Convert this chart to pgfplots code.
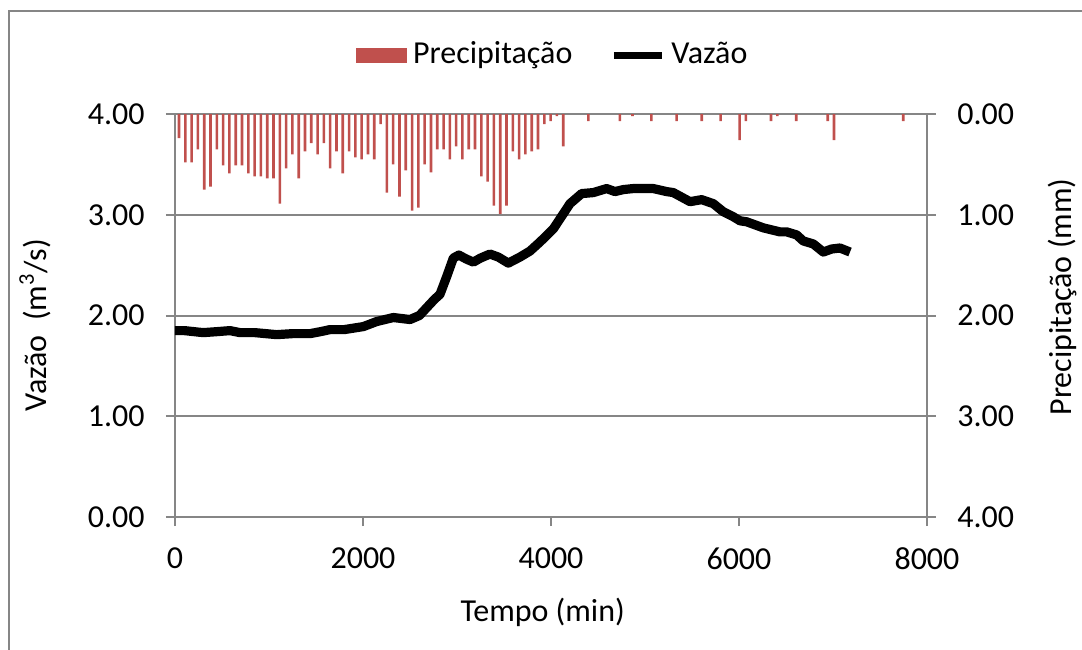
\documentclass[border=0pt]{standalone}
\usepackage{fontspec}
\setmainfont{Carlito}
\usepackage{pgfplots}
\pgfplotsset{compat=1.18}
\definecolor{axisgray}{RGB}{134,134,134}
\definecolor{barred}{RGB}{192,80,77}

% precipitacao (mm) por intervalo
\pgfplotstableread{
t p
43 0.24
110 0.48
177 0.48
244 0.35
311 0.75
378 0.72
445 0.35
512 0.51
579 0.59
646 0.51
713 0.51
780 0.59
847 0.62
914 0.62
981 0.64
1048 0.64
1115 0.89
1182 0.54
1249 0.40
1316 0.64
1383 0.37
1450 0.29
1517 0.40
1584 0.29
1651 0.54
1718 0.37
1785 0.59
1852 0.37
1919 0.43
1986 0.45
2053 0.40
2120 0.45
2187 0.10
2254 0.78
2321 0.50
2388 0.82
2455 0.56
2522 0.96
2589 0.93
2656 0.50
2723 0.58
2790 0.35
2857 0.35
2924 0.45
2991 0.32
3058 0.45
3125 0.35
3192 0.35
3259 0.62
3326 0.67
3393 0.91
3460 0.99
3527 0.91
3594 0.37
3661 0.45
3728 0.40
3795 0.37
3862 0.35
3929 0.10
3996 0.07
4063 0.02
4130 0.32
4398 0.07
4733 0.07
4867 0.02
5068 0.07
5336 0.07
5604 0.07
5805 0.07
6006 0.26
6073 0.07
6341 0.07
6408 0.02
6609 0.07
6944 0.07
7011 0.26
7748 0.07
}\precip

% vazao (m3/s)
\pgfplotstableread{
t q
0 1.85
100 1.85
300 1.83
450 1.84
585 1.85
691 1.83
850 1.83
1082 1.81
1250 1.82
1436 1.82
1550 1.84
1649 1.86
1800 1.86
2004 1.89
2145 1.94
2323 1.98
2500 1.96
2600 2.00
2680 2.08
2760 2.16
2819 2.21
2890 2.385
2961 2.57
3020 2.60
3100 2.56
3174 2.53
3250 2.57
3351 2.61
3440 2.58
3546 2.52
3670 2.58
3777 2.64
3883 2.73
3960 2.80
4025 2.86
4110 2.98
4202 3.11
4326 3.21
4450 3.22
4592 3.26
4681 3.23
4770 3.25
4876 3.26
5089 3.26
5230 3.23
5301 3.22
5479 3.13
5603 3.15
5727 3.11
5833 3.03
5940 2.98
6011 2.94
6082 2.93
6259 2.87
6436 2.83
6507 2.83
6613 2.80
6684 2.74
6791 2.71
6897 2.63
6986 2.66
7074 2.67
7181 2.63
}\vazao

\begin{document}
\fontsize{16}{19}\selectfont
\begin{tikzpicture}
\useasboundingbox (0,0) rectangle (541pt,324.5pt);
\draw[axisgray,line width=0.75pt] (4.5pt,319pt) rectangle (560pt,-20pt);

\pgfplotsset{
  base/.style={
    at={(87.5pt,66pt)},anchor=south west,scale only axis,
    width=376pt,height=201.5pt,
    xmin=0,xmax=8000,ymin=0,ymax=4,
    ytick={0,1,2,3,4},
    axis line style={axisgray,line width=1pt},
    tick style={axisgray,line width=1pt},
    tick align=outside,major tick length=4.5pt,
    /pgf/number format/assume math mode=true,
    yticklabel style={inner sep=0pt,/pgf/number format/fixed,
      /pgf/number format/fixed zerofill,/pgf/number format/precision=2},
  }
}

\begin{axis}[base,
  axis x line*=bottom,axis y line*=left,
  xtick={0,2000,4000,6000,8000},
  xticklabel style={inner sep=0pt,yshift=-10.5pt,/pgf/number format/set thousands separator={}},
  yticklabel style={xshift=-10.5pt},
  ymajorgrids,major grid style={axisgray,line width=1pt},
  xlabel={Tempo (min)},
  xlabel style={at={(axis description cs:0.489,-0.236)},anchor=center},
  ylabel={Vazão~~(m\textsuperscript{3}/s)},
  ylabel style={at={(axis description cs:-0.186,0.476)},anchor=center},
]
\addplot[black,line width=4.6pt,line join=round] table[x=t,y=q] {\vazao};
\end{axis}

\begin{axis}[base,
  axis y line*=right,hide x axis,y dir=reverse,
  yticklabel style={xshift=10.5pt},
  ylabel={Precipitação (mm)},
  ylabel style={at={(axis description cs:1.18,0.546)},anchor=center},
  legend columns=2,
  legend style={at={(axis description cs:0.505,1.146)},anchor=center,
    draw=none,fill=none,inner sep=0pt,
    nodes={inner xsep=3pt},
    /tikz/every even column/.append style={column sep=16pt}},
]
\addplot[ybar,bar width=1.3pt,fill=barred,draw=none,
  legend image code/.code={\fill[barred] (0pt,-3.75pt) rectangle (25.5pt,3.75pt);}]
  table[x=t,y=p] {\precip};
\addlegendentry{Precipitação}
\addlegendimage{black,
  legend image code/.code={\draw[black,line width=3.5pt] (0pt,0pt) -- (24pt,0pt);}}
\addlegendentry{Vazão}
\end{axis}
\end{tikzpicture}
\end{document}
